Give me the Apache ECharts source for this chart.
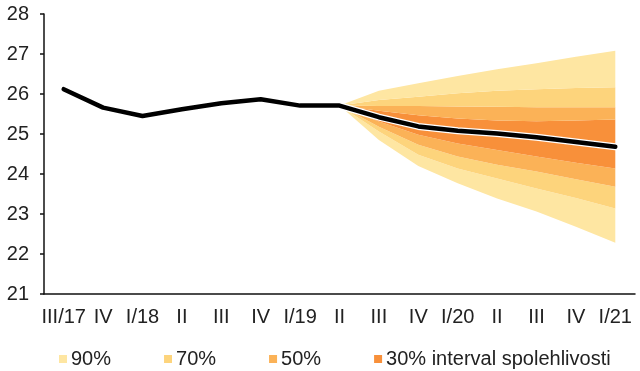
<!DOCTYPE html>
<html>
<head>
<meta charset="utf-8">
<script src="https://cdn.jsdelivr.net/npm/echarts@6/dist/echarts.min.js"></script>
<style>
html,body{margin:0;padding:0;background:#fff;}
#c{width:640px;height:371px;}
</style>
</head>
<body>
<div id="c"></div>
<script>
// Categories (quarters)
var categories = ['III/17','IV','I/18','II','III','IV','I/19','II','III','IV','I/20','II','III','IV','I/21'];
// Central path
var central = [26.12, 25.66, 25.45, 25.62, 25.77, 25.87, 25.71, 25.71, 25.42, 25.19, 25.08, 25.01, 24.92, 24.80, 24.68];
// Fan bounds (from II/19 to I/21)
var fanStart = 7;
var upper90 = [25.71, 26.08, 26.27, 26.45, 26.62, 26.77, 26.93, 27.08];
var upper70 = [25.71, 25.85, 25.93, 26.02, 26.08, 26.12, 26.15, 26.17];
var upper50 = [25.71, 25.70, 25.70, 25.69, 25.68, 25.67, 25.67, 25.67];
var upper30 = [25.71, 25.58, 25.47, 25.39, 25.34, 25.32, 25.34, 25.36];
var lower30 = [25.71, 25.31, 24.98, 24.76, 24.60, 24.44, 24.28, 24.14];
var lower50 = [25.71, 25.18, 24.73, 24.44, 24.23, 24.06, 23.87, 23.68];
var lower70 = [25.71, 25.06, 24.48, 24.14, 23.89, 23.64, 23.40, 23.14];
var lower90 = [25.71, 24.85, 24.20, 23.77, 23.39, 23.06, 22.68, 22.28];
var legendNames = ['90%', '70%', '50%', '30% interval spolehlivosti'];
var yTicks = [21, 22, 23, 24, 25, 26, 27, 28];

var colors = {'90%':'#FEE6A2', '70%':'#FDD47C', '50%':'#FBB257', '30% interval spolehlivosti':'#F8903A'};

function pad(arr){
  var out = [];
  for (var i = 0; i < categories.length; i++) {
    var j = i - fanStart;
    out.push(j >= 0 && j < arr.length ? arr[j] : '-');
  }
  return out;
}
function diff(a, b){
  return a.map(function(v, i){ return +(v - b[i]).toFixed(4); });
}

var layers = [
  {name: '90%', hi: lower70, lo: lower90},
  {name: '70%', hi: lower50, lo: lower70},
  {name: '50%', hi: lower30, lo: lower50},
  {name: '30% interval spolehlivosti', hi: upper30, lo: lower30},
  {name: '50%', hi: upper50, lo: upper30},
  {name: '70%', hi: upper70, lo: upper50},
  {name: '90%', hi: upper90, lo: upper70}
];

var series = [{
  name: 'base', type: 'line', stack: 'fan', data: pad(lower90),
  symbol: 'none', lineStyle: {opacity: 0, width: 0}, silent: true, z: 1
}];
layers.forEach(function(l){
  series.push({
    name: l.name, type: 'line', stack: 'fan', data: pad(diff(l.hi, l.lo)),
    symbol: 'none', color: colors[l.name],
    lineStyle: {width: 0, opacity: 0},
    areaStyle: {color: colors[l.name], opacity: 1},
    z: 1
  });
});
series.push({
  name: 'outline', type: 'line', data: central, symbol: 'none',
  lineStyle: {color: '#ffffff', width: 7, join: 'round', cap: 'round'}, z: 3
});
series.push({
  name: 'central', type: 'line', data: central, symbol: 'none',
  lineStyle: {color: '#000000', width: 4.5, join: 'round', cap: 'round'}, z: 4
});

var chart = echarts.init(document.getElementById('c'), null, {renderer: 'canvas'});
chart.setOption({
  animation: false,
  backgroundColor: '#ffffff',
  textStyle: {fontFamily: 'Liberation Sans, Arial, sans-serif'},
  grid: {left: 44, right: 5, top: 14, bottom: 77, containLabel: false},
  legend: {
    data: legendNames,
    left: 54, top: 344,
    icon: 'rect', itemWidth: 8, itemHeight: 8, itemGap: 53,
    textStyle: {fontSize: 20, color: '#222', fontFamily: 'Liberation Sans, Arial, sans-serif', padding: [0, 0, 0, -1]},
    selectedMode: false
  },
  xAxis: {
    type: 'category', data: categories, boundaryGap: true,
    axisLine: {lineStyle: {color: '#111', width: 1.5}},
    axisTick: {show: false},
    axisLabel: {interval: 0, fontSize: 20, color: '#222', margin: 13, hideOverlap: false,
      fontFamily: 'Liberation Sans, Arial, sans-serif'}
  },
  yAxis: {
    type: 'value', min: yTicks[0], max: yTicks[yTicks.length - 1], interval: 1,
    axisLine: {show: true, lineStyle: {color: '#111', width: 1.5}},
    axisTick: {show: true, length: 4, lineStyle: {color: '#111', width: 1.5}},
    splitLine: {show: false},
    axisLabel: {fontSize: 20, color: '#222', margin: 15,
      fontFamily: 'Liberation Sans, Arial, sans-serif'}
  },
  series: series
});
</script>
</body>
</html>
